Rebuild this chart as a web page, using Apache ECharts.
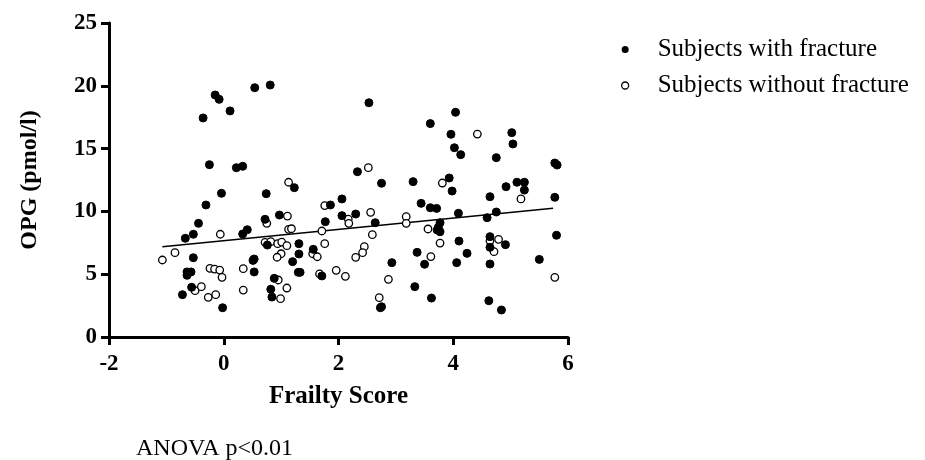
<!DOCTYPE html>
<html>
<head>
<meta charset="utf-8">
<script src="https://cdn.jsdelivr.net/npm/echarts@6/dist/echarts.min.js"></script>
<style>html,body{margin:0;padding:0;background:#fff;}#c{width:925px;height:460px;}</style>
</head>
<body>
<div id="c"></div>
<script>
var withFracture = [
  [-0.15,19.27],[-0.08,18.92],[0.54,19.85],[0.81,20.06],[0.11,18.0],[-0.36,17.44],
  [-0.25,13.72],[0.22,13.48],[0.33,13.59],[1.23,11.89],[-0.04,11.44],[0.74,11.41],
  [2.06,10.99],[-0.31,10.51],[1.86,10.51],[-0.44,9.05],[0.72,9.37],[-0.53,8.18],
  [-0.67,7.86],[0.33,8.2],[0.41,8.54],[0.97,9.71],[2.06,9.66],[1.77,9.18],
  [-0.53,6.31],[0.76,7.32],[1.31,7.43],[1.31,6.61],[1.20,6.0],[1.56,6.98],
  [0.53,6.21],[0.51,6.1],[0.53,5.18],[-0.64,5.18],[-0.57,5.18],[-0.64,4.91],
  [-0.56,3.96],[-0.72,3.37],[-0.02,2.33],[0.88,4.67],[0.82,3.8],[0.84,3.18],
  [1.71,4.86],[2.33,13.16],[2.75,12.24],[3.30,12.37],[3.44,10.64],[2.30,9.79],
  [2.64,9.1],[2.53,18.65],[4.04,17.89],[3.60,16.99],[3.96,16.14],[5.02,16.27],
  [5.04,15.37],[4.02,15.07],[4.13,14.52],[4.75,14.28],[5.77,13.85],[5.81,13.69],
  [3.93,12.66],[3.98,11.62],[4.92,11.97],[5.11,12.32],[5.24,12.32],[5.24,11.7],
  [4.64,11.17],[5.77,11.12],[3.60,10.29],[3.71,10.24],[4.09,9.85],[4.75,9.95],
  [4.59,9.5],[3.77,9.1],[3.74,8.73],[3.72,8.52],[3.77,8.38],[4.10,7.64],
  [4.64,7.99],[4.91,7.35],[5.80,8.1],[4.64,7.14],[3.37,6.74],[3.50,5.79],
  [4.06,5.92],[4.24,6.66],[4.64,5.81],[2.93,5.92],[5.50,6.18],[3.33,4.01],
  [2.73,2.33],[2.75,2.41],[3.62,3.1],[4.62,2.89],[4.84,2.15],[1.30,5.15],[1.33,5.15]
];
var withoutFracture = [
  [1.13,12.32],[1.76,10.46],[0.75,9.05],[-0.06,8.18],[1.11,9.63],[2.17,9.39],
  [2.18,9.05],[1.13,8.57],[1.18,8.62],[1.71,8.44],[-1.07,6.13],[-0.85,6.71],
  [0.72,7.54],[0.82,7.59],[0.94,7.43],[1.01,7.56],[1.10,7.27],[1.0,6.63],
  [0.93,6.35],[1.55,6.63],[1.63,6.39],[1.76,7.43],[0.34,5.44],[-0.24,5.47],
  [-0.16,5.41],[-0.07,5.33],[-0.03,4.75],[-0.5,3.69],[-0.39,4.01],[-0.27,3.16],
  [-0.14,3.37],[0.95,4.54],[0.34,3.74],[1.10,3.9],[0.99,3.05],[1.67,5.02],
  [1.96,5.31],[2.12,4.83],[2.52,13.48],[2.56,9.93],[3.18,9.58],[3.18,9.05],
  [2.59,8.15],[2.45,7.19],[4.42,16.16],[3.81,12.26],[5.18,10.99],[3.56,8.6],
  [3.77,7.48],[4.64,7.66],[4.79,7.78],[4.71,6.79],[2.42,6.71],[2.30,6.34],
  [3.61,6.4],[2.87,4.59],[5.77,4.75],[2.71,3.13]
];
var regressionLine = [[-1.07,7.19],[5.74,10.25]];
var seriesNames = ['Subjects with fracture','Subjects without fracture'];
var xTicks = [-2,0,2,4,6];
var yTicks = [0,5,10,15,20,25];

var serif = '"Liberation Serif","Times New Roman",serif';
var chart = echarts.init(document.getElementById('c'), null, {renderer:'canvas'});
chart.setOption({
  animation:false,
  backgroundColor:'#fff',
  grid:{left:109,right:357,top:23,bottom:123},
  title:{text:'ANOVA p<0.01',left:131,top:432,textStyle:{fontFamily:serif,fontSize:24,fontWeight:'normal',color:'#000'}},
  legend:{
    data:[
      {name:seriesNames[0],icon:'circle',itemStyle:{color:'#000',borderColor:'#000'}},
      {name:seriesNames[1],icon:'circle',itemStyle:{color:'#fff',borderColor:'#000',borderWidth:1.3}}
    ],
    orient:'vertical',left:616,top:32,itemWidth:7,itemHeight:7,itemGap:11,
    textStyle:{fontFamily:serif,fontSize:25,color:'#000',padding:[0,0,0,24]}
  },
  xAxis:{
    type:'value',min:xTicks[0],max:xTicks[xTicks.length-1],interval:2,
    name:'Frailty Score',nameLocation:'middle',nameGap:47,
    nameTextStyle:{fontFamily:serif,fontSize:25,fontWeight:'bold',color:'#000'},
    axisLine:{show:true,onZero:false,lineStyle:{color:'#000',width:3}},
    axisTick:{show:true,length:8,lineStyle:{color:'#000',width:3}},
    axisLabel:{fontFamily:serif,fontSize:23,fontWeight:'bold',color:'#000',margin:16},
    splitLine:{show:false}
  },
  yAxis:{
    type:'value',min:yTicks[0],max:yTicks[yTicks.length-1],interval:5,
    name:'OPG (pmol/l)',nameLocation:'middle',nameGap:67,
    nameTextStyle:{fontFamily:serif,fontSize:24,fontWeight:'bold',color:'#000'},
    axisLine:{show:true,onZero:false,lineStyle:{color:'#000',width:3}},
    axisTick:{show:true,length:8,lineStyle:{color:'#000',width:3}},
    axisLabel:{fontFamily:serif,fontSize:23,fontWeight:'bold',color:'#000',margin:12},
    splitLine:{show:false}
  },
  series:[
    {name:'fit',type:'line',data:regressionLine,symbol:'none',lineStyle:{color:'#000',width:1.5},z:1,silent:true},
    {name:seriesNames[0],type:'scatter',data:withFracture,symbol:'circle',symbolSize:8,
     itemStyle:{color:'#000',borderColor:'#000',opacity:1},z:3},
    {name:seriesNames[1],type:'scatter',data:withoutFracture,symbol:'circle',symbolSize:7.5,
     itemStyle:{color:'#fff',borderColor:'#000',borderWidth:1.3,opacity:1},z:2}
  ]
});
</script>
</body>
</html>
